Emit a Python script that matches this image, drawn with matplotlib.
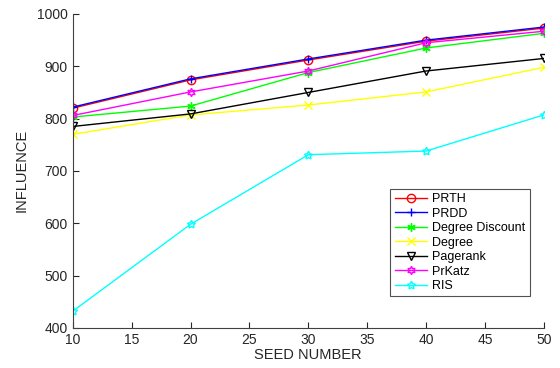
import matplotlib
matplotlib.use("Agg")
import matplotlib.pyplot as plt

plt.rcParams["font.family"] = ["Liberation Sans", "DejaVu Sans"]

seeds = [10, 20, 30, 40, 50]
prth = [820, 874, 912, 948, 973]
prdd = [822, 876, 914, 950, 975]
degree_discount = [803, 824, 888, 935, 963]
degree = [770, 807, 826, 851, 898]
pagerank = [785, 809, 850, 891, 915]
prkatz = [806, 851, 891, 945, 967]
ris = [432, 598, 731, 738, 807]

series = [
    ("PRTH", prth, "red", "o"),
    ("PRDD", prdd, "blue", "+"),
    ("Degree Discount", degree_discount, "#00ff00", (6, 2, 0)),
    ("Degree", degree, "yellow", "x"),
    ("Pagerank", pagerank, "black", "v"),
    ("PrKatz", prkatz, "magenta", (6, 1, 0)),
    ("RIS", ris, "cyan", (5, 1, 0)),
]

fig = plt.figure(figsize=(5.6, 3.68), dpi=100)
ax = fig.add_axes([0.130, 0.109, 0.841, 0.853])

for name, vals, color, mk in series:
    ax.plot(seeds, vals, color=color, marker=mk, markersize=6,
            markerfacecolor="none", markeredgecolor=color,
            linewidth=1, label=name)

ax.set_xlim(10, 50)
ax.set_ylim(400, 1000)
ax.set_xticks(range(10, 51, 5))
ax.set_yticks(range(400, 1001, 100))
ax.spines["top"].set_visible(False)
ax.spines["right"].set_visible(False)
ax.spines["left"].set_color("#404040")
ax.spines["bottom"].set_color("#404040")
ax.tick_params(direction="in", labelsize=10, colors="#262626", length=4)
ax.set_xlabel("SEED NUMBER", fontsize=10.5, color="#262626", labelpad=1)
ax.set_ylabel("INFLUENCE", fontsize=10.5, color="#262626", labelpad=6)

leg = ax.legend(loc="lower right", bbox_to_anchor=(0.97, 0.10), fontsize=9,
                frameon=True, fancybox=False, edgecolor="#262626",
                handlelength=2.6, borderpad=0.35, labelspacing=0.2,
                handletextpad=0.4, borderaxespad=0)
leg.get_frame().set_linewidth(0.8)

fig.savefig("out.png", dpi=100)
